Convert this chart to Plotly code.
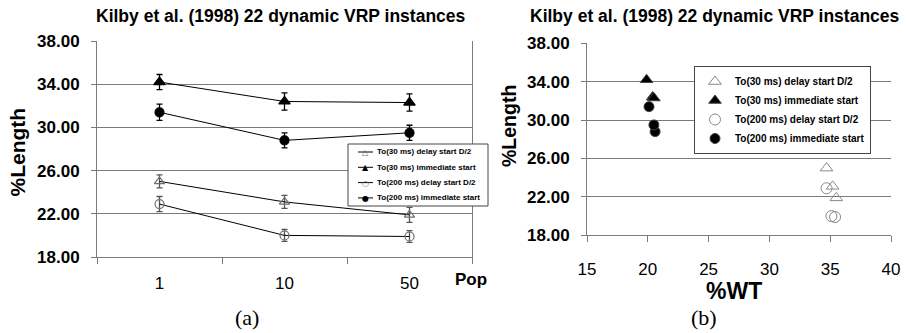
import plotly.graph_objects as go

W, H = 907, 333

# ---------------- data ----------------
pop_labels = ["1", "10", "50"]
series_names = [
    "To(30 ms) delay start D/2",
    "To(30 ms) immediate start",
    "To(200 ms) delay start D/2",
    "To(200 ms) immediate start",
]
# panel (a): %Length by population size, with error bars
len_delay30 = [25.0, 23.1, 21.9]
len_imm30 = [34.2, 32.4, 32.3]
len_delay200 = [22.9, 20.0, 19.9]
len_imm200 = [31.4, 28.8, 29.5]
err_delay30 = [0.6, 0.6, 0.7]
err_imm30 = [0.7, 0.8, 0.8]
err_delay200 = [0.7, 0.55, 0.55]
err_imm200 = [0.75, 0.7, 0.7]
# panel (b): %WT for the same runs
wt_delay30 = [34.7, 35.2, 35.5]
wt_imm30 = [19.9, 20.4, 20.5]
wt_delay200 = [34.7, 35.1, 35.4]
wt_imm200 = [20.1, 20.6, 20.5]

title_text = "Kilby et al. (1998) 22 dynamic VRP instances"
y_ticks = [18, 22, 26, 30, 34, 38]
x_ticks_b = [15, 20, 25, 30, 35, 40]

FONT = "Liberation Sans, Arial, sans-serif"
SERIF = "Liberation Serif, Times New Roman, serif"
GRID = "#7a7a7a"
OPEN = "#707070"


def px(x):
    return x / W


def py(y):
    return 1 - y / H


styles = [
    dict(symbol="triangle-up-open", color=OPEN, size=9, ecol="#555", glyph="△"),
    dict(symbol="triangle-up", color="black", size=10, ecol="black", glyph="▲"),
    dict(symbol="circle-open", color=OPEN, size=9, ecol="#555", glyph="○"),
    dict(symbol="circle", color="black", size=9, ecol="black", glyph="●"),
]
a_vals = [len_delay30, len_imm30, len_delay200, len_imm200]
a_errs = [err_delay30, err_imm30, err_delay200, err_imm200]
b_wt = [wt_delay30, wt_imm30, wt_delay200, wt_imm200]

fig = go.Figure()

for name, st, vals, errs in zip(series_names, styles, a_vals, a_errs):
    fig.add_trace(go.Scatter(
        x=pop_labels, y=vals, name=name, mode="lines+markers",
        xaxis="x", yaxis="y", showlegend=False,
        line=dict(color="black", width=1),
        marker=dict(symbol=st["symbol"], color=st["color"], size=st["size"],
                    line=dict(width=1.2, color=st["color"])),
        error_y=dict(type="data", array=errs, visible=True,
                     color=st["ecol"], thickness=1.3, width=3),
    ))

b_sizes = [11, 11, 11, 10]
for name, st, wts, vals, sz in zip(series_names, styles, b_wt, a_vals, b_sizes):
    fig.add_trace(go.Scatter(
        x=wts, y=vals, name=name, mode="markers",
        xaxis="x2", yaxis="y2", legend="legend2", showlegend=True,
        marker=dict(symbol=st["symbol"],
                    color=st["color"] if "open" not in st["symbol"] else "#888",
                    size=sz, line=dict(width=1)),
    ))

common_y = dict(
    range=[18, 38], tickvals=y_ticks, tickformat=".2f", automargin=False,
    showgrid=True, gridcolor=GRID, gridwidth=1,
    showline=True, linecolor=GRID, linewidth=1,
    ticks="outside", ticklen=5, tickcolor=GRID,
    tickfont=dict(family=FONT, size=17, color="black", weight="bold"),
    ticklabelstandoff=8, zeroline=False, fixedrange=True,
)

fig.update_layout(
    width=W, height=H,
    margin=dict(l=0, r=0, t=0, b=0, autoexpand=False),
    paper_bgcolor="white", plot_bgcolor="white",
    font=dict(family=FONT, color="black"),
    xaxis=dict(
        domain=[px(97), px(472)], anchor="y", automargin=False,
        type="category", categoryorder="array", categoryarray=pop_labels,
        range=[-0.5, 2.5], tickson="boundaries",
        ticks="outside", ticklen=6, tickcolor=GRID,
        showline=True, linecolor=GRID, showgrid=False, zeroline=False,
        tickfont=dict(family=FONT, size=17, color="black"),
        ticklabelstandoff=11, fixedrange=True,
    ),
    yaxis=dict(domain=[py(257), py(41)], anchor="x", mirror=True, **common_y),
    xaxis2=dict(
        domain=[px(587), px(891)], anchor="y2", automargin=False,
        range=[15, 40], tickvals=x_ticks_b,
        ticks="outside", ticklen=6, tickcolor=GRID,
        showline=True, linecolor=GRID, showgrid=False, zeroline=False,
        tickfont=dict(family=FONT, size=17, color="black"),
        ticklabelstandoff=12, fixedrange=True,
    ),
    yaxis2=dict(domain=[py(235.3), py(43.3)], anchor="x2", **common_y),
    legend2=dict(
        x=px(694), y=py(66), xanchor="left", yanchor="top",
        bgcolor="white", bordercolor="#444", borderwidth=1,
        font=dict(family=FONT, size=10, color="black", weight="bold"),
        itemwidth=30, tracegroupgap=0,
    ),
    showlegend=True,
)

# ---- legend for panel (a): compact box drawn from the series list ----
leg_left, leg_right, leg_top, leg_bottom = 348, 488, 144, 206
fig.add_shape(type="rect", xref="paper", yref="paper",
              x0=px(leg_left), x1=px(leg_right), y0=py(leg_bottom), y1=py(leg_top),
              line=dict(color="#444", width=1), fillcolor="white", layer="above")
row0, row_step = 152, 15.3
for i, (name, st) in enumerate(zip(series_names, styles)):
    yy = row0 + i * row_step
    fig.add_shape(type="line", xref="paper", yref="paper",
                  x0=px(358), x1=px(373), y0=py(yy), y1=py(yy),
                  line=dict(color="black", width=1), layer="above")
    fig.add_annotation(text=st["glyph"], x=px(365.5), y=py(yy + 0.5),
                       xref="paper", yref="paper", showarrow=False,
                       xanchor="center", yanchor="middle",
                       font=dict(family="DejaVu Sans", size=8, color=st["color"]))
    fig.add_annotation(text="<b>" + name + "</b>", x=px(375), y=py(yy),
                       xref="paper", yref="paper", showarrow=False,
                       xanchor="left", yanchor="middle",
                       font=dict(family=FONT, size=8, color="black"))

annots = [
    dict(text="<b>" + title_text + "</b>", x=px(281), y=py(16), size=17.5, family=FONT),
    dict(text="<b>" + title_text + "</b>", x=px(715), y=py(16), size=17.5, family=FONT),
    dict(text="<b>%Length</b>", x=px(17.5), y=py(152), size=21, family=FONT, angle=-90),
    dict(text="<b>%Length</b>", x=px(509), y=py(126), size=19.5, family=FONT, angle=-90),
    dict(text="<b>Pop</b>", x=px(471), y=py(279), size=17, family=FONT),
    dict(text="<b>%WT</b>", x=px(734), y=py(291), size=23, family=FONT),
    dict(text="(a)", x=px(247), y=py(317), size=22, family=SERIF),
    dict(text="(b)", x=px(704), y=py(317), size=22, family=SERIF),
]
for a in annots:
    fig.add_annotation(
        text=a["text"], x=a["x"], y=a["y"], xref="paper", yref="paper",
        xanchor="center", yanchor="middle", showarrow=False,
        textangle=a.get("angle", 0),
        font=dict(family=a["family"], size=a["size"], color="black"),
    )

fig.write_html("out.html", config={"displayModeBar": False})
